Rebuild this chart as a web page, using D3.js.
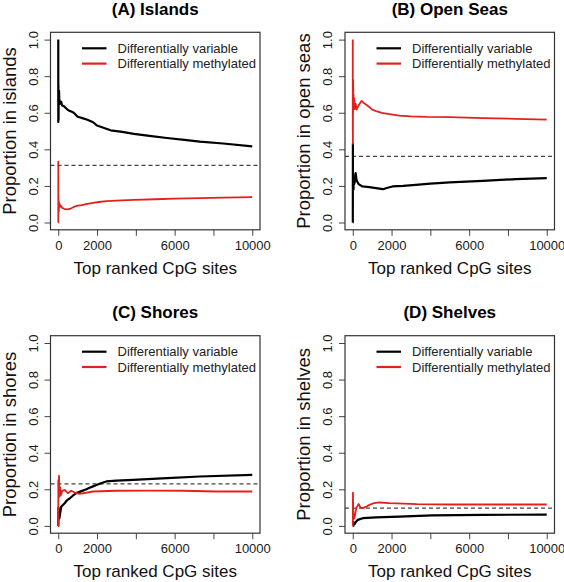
<!DOCTYPE html>
<html>
<head>
<meta charset="utf-8">
<script src="https://cdn.jsdelivr.net/npm/d3@7"></script>
<style>
  html, body { margin: 0; padding: 0; background: #fff; }
  svg { display: block; }
  text { font-family: "Liberation Sans", Arial, Helvetica, sans-serif; }
</style>
</head>
<body>
<svg id="chart" width="564" height="582"></svg>
<script>
// ---------- data ----------
const panelTitles = ["(A) Islands", "(B) Open Seas", "(C) Shores", "(D) Shelves"];
const yAxisTitles = ["Proportion in islands", "Proportion in open seas", "Proportion in shores", "Proportion in shelves"];
const xAxisTitle = "Top ranked CpG sites";
const seriesNames = ["Differentially variable", "Differentially methylated"];
const xTicks = [0, 2000, 4000, 6000, 8000, 10000];
const xTickLabels = ["0", "2000", "", "6000", "", "10000"];
const yTicks = [0, 0.2, 0.4, 0.6, 0.8, 1.0];
const yTickLabels = ["0.0", "0.2", "0.4", "0.6", "0.8", "1.0"];
const baselines = [0.312, 0.361, 0.23, 0.097];

// (A) Islands
const islandsVarX = [1,2,3,5,8,10,15,20,30,40,50,75,100,150,200,300,400,500,600,700,800,1000,1200,1500,1800,2000,2400,2700,3300,3900,4700,5600,6500,7300,8500,10000];
const islandsVarY = [1.0,0.55,0.67,0.6,0.75,0.62,0.56,0.66,0.7,0.72,0.68,0.66,0.65,0.66,0.64,0.635,0.625,0.615,0.61,0.605,0.6,0.578,0.572,0.562,0.548,0.53,0.515,0.504,0.495,0.485,0.474,0.462,0.452,0.442,0.432,0.416];
const islandsMethX = [1,2,3,5,8,10,15,20,30,40,50,75,100,150,200,300,450,600,800,1000,1200,1500,1800,2100,2500,3000,3900,5000,6000,7300,8500,10000];
const islandsMethY = [0.0,0.0,0.333,0.2,0.05,0.14,0.08,0.12,0.06,0.11,0.09,0.1,0.085,0.09,0.08,0.075,0.072,0.074,0.085,0.092,0.095,0.102,0.107,0.112,0.117,0.12,0.124,0.127,0.13,0.133,0.136,0.139];

// (B) Open Seas
const seasVarX = [1,2,3,5,7,10,15,20,30,40,50,75,100,150,200,300,500,850,1200,1550,1800,2050,2600,3250,4000,5000,6700,8400,10000];
const seasVarY = [0.0,0.0,0.0,0.2,0.43,0.2,0.27,0.2,0.23,0.18,0.24,0.21,0.22,0.27,0.23,0.21,0.197,0.193,0.188,0.182,0.19,0.197,0.2,0.206,0.212,0.219,0.228,0.237,0.243];
const seasMethX = [1,2,3,5,7,10,15,20,30,40,50,75,100,150,200,300,450,550,700,850,1000,1250,1500,1900,2400,3000,3800,5000,6700,8400,10000];
const seasMethY = [1.0,0.5,0.67,0.6,0.43,0.7,0.6,0.78,0.65,0.7,0.64,0.68,0.62,0.65,0.617,0.64,0.665,0.655,0.644,0.632,0.617,0.607,0.599,0.592,0.584,0.58,0.577,0.576,0.571,0.567,0.562];

// (C) Shores
const shoresVarX = [1,2,3,5,10,20,30,50,70,100,155,200,330,450,600,750,930,1200,1450,1700,1970,2200,2480,3000,3860,5600,7300,10000];
const shoresVarY = [0.0,0.0,0.0,0.0,0.1,0.05,0.067,0.04,0.05,0.07,0.106,0.11,0.124,0.14,0.151,0.165,0.179,0.19,0.2,0.212,0.224,0.233,0.243,0.247,0.252,0.261,0.27,0.279];
const shoresMethX = [1,2,3,4,5,7,10,15,20,30,40,50,75,100,150,200,330,500,670,900,1100,1800,3000,4700,6400,8200,10000];
const shoresMethY = [0.0,0.0,0.0,0.25,0.2,0.143,0.2,0.2,0.25,0.233,0.275,0.22,0.16,0.21,0.17,0.19,0.197,0.179,0.192,0.18,0.175,0.188,0.192,0.193,0.192,0.188,0.188];

// (D) Shelves
const shelvesVarX = [1,10,30,50,100,150,260,515,1200,2400,4100,6700,10000];
const shelvesVarY = [0.0,0.0,0.0,0.02,0.01,0.02,0.033,0.042,0.046,0.051,0.057,0.06,0.062];
const shelvesMethX = [1,2,3,5,8,11,15,20,30,50,75,100,150,200,300,400,515,700,860,1100,1370,1900,3300,5000,10000];
const shelvesMethY = [0.0,0.0,0.0,0.0,0.125,0.182,0.133,0.1,0.067,0.06,0.04,0.05,0.08,0.1,0.12,0.1,0.097,0.105,0.115,0.125,0.128,0.124,0.119,0.117,0.117];

const panelSeries = [
  [[islandsVarX, islandsVarY], [islandsMethX, islandsMethY]],
  [[seasVarX, seasVarY], [seasMethX, seasMethY]],
  [[shoresVarX, shoresVarY], [shoresMethX, shoresMethY]],
  [[shelvesVarX, shelvesVarY], [shelvesMethX, shelvesMethY]]
];

// ---------- layout / style ----------
const seriesColors = ["#000000", "#e3211c"];
const boxes = [
  {left: 50.5, top: 32.3},
  {left: 345, top: 32.3},
  {left: 50.5, top: 335.7},
  {left: 345, top: 335.7}
];
const boxW = 209.5, boxH = 197.5;

const svg = d3.select("#chart");

boxes.forEach((b, i) => {
  const x = d3.scaleLinear().domain([-400, 10400]).range([b.left, b.left + boxW]);
  const y = d3.scaleLinear().domain([-0.04, 1.04]).range([b.top + boxH, b.top]);
  const g = svg.append("g");

  const clipId = "clip" + i;
  svg.append("clipPath").attr("id", clipId)
    .append("rect").attr("x", b.left).attr("y", b.top).attr("width", boxW).attr("height", boxH);

  // x axis
  const xa = g.append("g")
    .attr("transform", `translate(0,${b.top + boxH})`)
    .call(d3.axisBottom(x).tickValues(xTicks).tickSize(6)
      .tickFormat((d, k) => xTickLabels[k]));
  xa.select(".domain").remove();
  xa.selectAll("line").attr("stroke", "#444");
  xa.selectAll("text").attr("y", 20).attr("dy", null)
    .attr("font-size", 13).attr("fill", "#1a1a1a")
    .attr("font-family", "Liberation Sans, Arial, sans-serif");

  // y axis
  const ya = g.append("g")
    .attr("transform", `translate(${b.left},0)`)
    .call(d3.axisLeft(y).tickValues(yTicks).tickSize(6)
      .tickFormat((d, k) => yTickLabels[k]));
  ya.select(".domain").remove();
  ya.selectAll("line").attr("stroke", "#444");
  ya.selectAll("text")
    .attr("x", null).attr("dy", null)
    .attr("text-anchor", "middle")
    .attr("transform", "translate(-13,0) rotate(-90)")
    .attr("font-size", 13).attr("fill", "#1a1a1a")
    .attr("font-family", "Liberation Sans, Arial, sans-serif");

  // dashed baseline
  g.append("line")
    .attr("x1", b.left).attr("x2", b.left + boxW)
    .attr("y1", y(baselines[i])).attr("y2", y(baselines[i]))
    .attr("stroke", "#444").attr("stroke-width", 1.3)
    .attr("stroke-dasharray", "4,3");

  // series lines
  const line = d3.line().x(d => x(d[0])).y(d => y(d[1]));
  const plot = g.append("g").attr("clip-path", `url(#${clipId})`);
  panelSeries[i].forEach((s, k) => {
    const pts = s[0].map((v, j) => [v, s[1][j]]);
    plot.append("path").datum(pts)
      .attr("d", line)
      .attr("fill", "none")
      .attr("stroke", seriesColors[k])
      .attr("stroke-width", k === 0 ? 2.2 : 1.8)
      .attr("stroke-linejoin", "round");
  });

  // box
  g.append("rect")
    .attr("x", b.left).attr("y", b.top).attr("width", boxW).attr("height", boxH)
    .attr("fill", "none").attr("stroke", "#333").attr("stroke-width", 1.2);

  // title
  g.append("text")
    .attr("x", b.left + boxW / 2).attr("y", b.top - 17.5)
    .attr("text-anchor", "middle")
    .attr("font-size", 17).attr("font-weight", "bold").attr("fill", "#000")
    .text(panelTitles[i]);

  // x axis title
  g.append("text")
    .attr("x", b.left + boxW / 2).attr("y", b.top + boxH + 44)
    .attr("text-anchor", "middle")
    .attr("font-size", 17).attr("fill", "#111")
    .text(xAxisTitle);

  // y axis title
  g.append("text")
    .attr("transform", `translate(${b.left - 35},${b.top + boxH / 2}) rotate(-90)`)
    .attr("text-anchor", "middle")
    .attr("font-size", 18.5).attr("fill", "#111")
    .text(yAxisTitles[i]);

  // legend
  seriesNames.forEach((name, k) => {
    const ly = b.top + 16 + k * 15.3;
    g.append("line")
      .attr("x1", b.left + 31.5).attr("x2", b.left + 56)
      .attr("y1", ly).attr("y2", ly)
      .attr("stroke", seriesColors[k]).attr("stroke-width", 2.2);
    g.append("text")
      .attr("x", b.left + 67).attr("y", ly)
      .attr("dy", "0.36em")
      .attr("font-size", 13).attr("fill", "#222")
      .text(name);
  });
});
</script>
</body>
</html>
